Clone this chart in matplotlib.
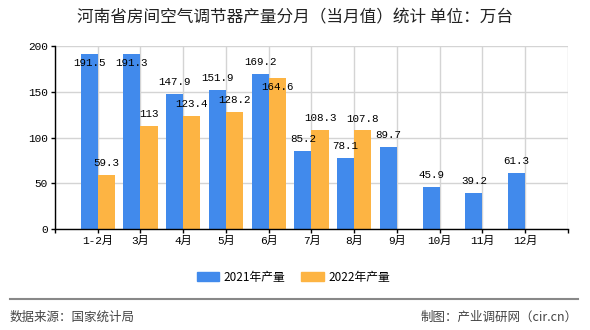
import matplotlib
matplotlib.use('Agg')
import matplotlib.pyplot as plt
from matplotlib.patches import Patch
from matplotlib.lines import Line2D
import numpy as np

# Dati (万台)
months = ['1-2月', '3月', '4月', '5月', '6月', '7月', '8月', '9月', '10月', '11月', '12月']
prod_2021 = [191.5, 191.3, 147.9, 151.9, 169.2, 85.2, 78.1, 89.7, 45.9, 39.2, 61.3]
prod_2022 = [59.3, 113, 123.4, 128.2, 164.6, 108.3, 107.8]
y_ticks = [0, 50, 100, 150, 200]

TITLE = '河南省房间空气调节器产量分月（当月值）统计 单位：万台'
SOURCE = '数据来源：国家统计局'
CREDIT = '制图：产业调研网（cir.cn）'

BLUE = '#418AEC'
ORANGE = '#FDB443'
CJK = ['Noto Sans CJK SC', 'DejaVu Sans']
MONO = ['Liberation Mono', 'Noto Sans CJK SC']

plt.rcParams['font.family'] = CJK

fig = plt.figure(figsize=(5.9, 3.3), dpi=100)
ax = fig.add_axes([0.0932, 0.3052, 0.8695, 0.5554])

x = np.arange(len(months))
w = 0.4
bars_a = ax.bar(x[:len(prod_2021)] - w / 2, prod_2021, w, color=BLUE, zorder=2)
bars_b = ax.bar(x[:len(prod_2022)] + w / 2, prod_2022, w, color=ORANGE, zorder=2)

# etichette valori: sopra la barra, dentro se non c'e' spazio
inside_a = {0, 1}
inside_b = {4}
for i, (b, v) in enumerate(zip(bars_a, prod_2021)):
    dy = -6.5 if i in inside_a else 8.6
    ax.annotate(f'{v:g}', (b.get_x() + b.get_width() / 2, v), xytext=(0, dy),
                textcoords='offset points', ha='center', va='center',
                fontsize=7.8, family=MONO, color='#000000', zorder=3)
for i, (b, v) in enumerate(zip(bars_b, prod_2022)):
    dy = -6.5 if i in inside_b else 8.6
    ax.annotate(f'{v:g}', (b.get_x() + b.get_width() / 2, v), xytext=(0, dy),
                textcoords='offset points', ha='center', va='center',
                fontsize=7.8, family=MONO, color='#000000', zorder=3)

ax.set_xlim(-1, len(months))
ax.set_ylim(0, 200)
ax.set_yticks(y_ticks)
ax.set_yticklabels([str(t) for t in y_ticks], family=MONO, fontsize=8)
ax.set_xticks(np.arange(-1, len(months) + 1))
ax.set_xticklabels([''] + months + [''], family=MONO, fontsize=8)
ax.tick_params(axis='both', length=3, width=1, color='black', pad=2)

ax.grid(True, color='#d4d4d4', linewidth=1)
ax.set_axisbelow(True)
for s in ['top', 'right']:
    ax.spines[s].set_visible(False)
for s in ['left', 'bottom']:
    ax.spines[s].set_color('black')
    ax.spines[s].set_linewidth(1)

fig.text(0.5, 1 - 18 / 330, TITLE, ha='center', va='center', fontsize=12, color='#222222')

handles = [Patch(color=BLUE, label='2021年产量'), Patch(color=ORANGE, label='2022年产量')]
fig.legend(handles=handles, loc='center', bbox_to_anchor=(0.497, 1 - 277 / 330), ncol=2,
           frameon=False, fontsize=8.5, handlelength=1.9, handleheight=0.7,
           handletextpad=0.35, columnspacing=1.4)

fig.add_artist(Line2D([10 / 590, 578 / 590], [1 - 299 / 330] * 2, color='#888888', linewidth=1.5))
fig.text(10 / 590, 1 - 317 / 330, SOURCE, ha='left', va='center', fontsize=9, color='#444444')
fig.text(578 / 590, 1 - 317 / 330, CREDIT, ha='right', va='center', fontsize=9, color='#444444')

fig.savefig('out.png', dpi=100)
